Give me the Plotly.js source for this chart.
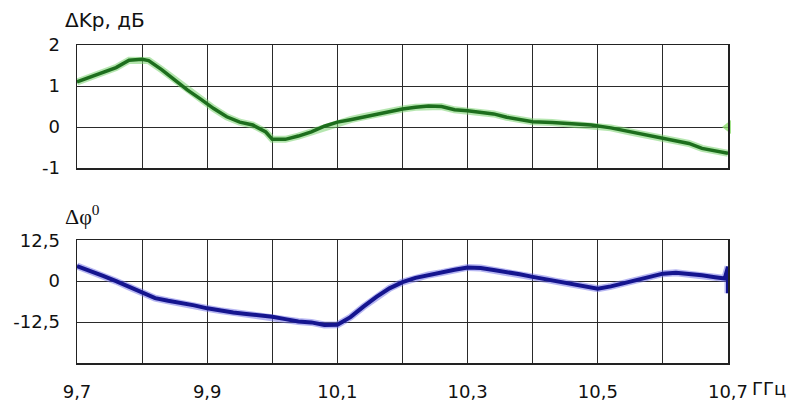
<!DOCTYPE html>
<html><head><meta charset="utf-8">
<script src="https://cdn.plot.ly/plotly-3.0.1.min.js"></script>
<style>html,body{margin:0;padding:0;background:#fff}#c{width:795px;height:403px}</style>
</head><body><div id="c"></div>
<script>
// Top panel: gain deviation ΔKp, dB
const freqK = [9.70,9.72,9.74,9.76,9.78,9.80,9.81,9.83,9.85,9.87,9.89,9.91,9.93,9.95,9.97,9.99,10.00,10.02,10.04,10.06,10.08,10.10,10.12,10.14,10.16,10.18,10.20,10.22,10.24,10.26,10.28,10.30,10.32,10.34,10.36,10.38,10.40,10.43,10.46,10.49,10.52,10.55,10.58,10.61,10.64,10.66,10.68,10.70];
const gainDb = [1.10,1.22,1.33,1.45,1.63,1.65,1.62,1.40,1.15,0.90,0.68,0.45,0.25,0.12,0.05,-0.12,-0.30,-0.30,-0.22,-0.12,0.02,0.12,0.18,0.25,0.32,0.38,0.44,0.48,0.51,0.50,0.42,0.40,0.37,0.32,0.24,0.18,0.13,0.11,0.08,0.05,-0.02,-0.12,-0.22,-0.32,-0.40,-0.52,-0.58,-0.64];
// Bottom panel: phase deviation Δφ, degrees
const freqP = [9.70,9.72,9.74,9.76,9.78,9.80,9.82,9.84,9.86,9.88,9.90,9.92,9.94,9.96,9.98,10.00,10.02,10.04,10.06,10.08,10.10,10.12,10.14,10.16,10.18,10.20,10.22,10.24,10.26,10.28,10.30,10.32,10.34,10.36,10.38,10.40,10.42,10.44,10.46,10.48,10.50,10.52,10.54,10.56,10.58,10.60,10.62,10.64,10.66,10.68,10.695,10.70,10.70,10.70];
const phaseDeg = [4.6,3.2,1.6,0.0,-1.8,-3.7,-5.2,-6.0,-6.6,-7.4,-8.3,-9.0,-9.6,-10.0,-10.3,-10.9,-11.6,-12.3,-12.6,-13.4,-13.3,-11.0,-7.8,-4.8,-2.2,-0.3,1.0,1.9,2.6,3.5,4.2,4.0,3.4,2.9,2.1,1.3,0.6,-0.2,-0.9,-1.6,-2.3,-1.6,-0.6,0.4,1.5,2.3,2.6,2.3,1.8,1.2,0.8,4.4,-3.7,0.8];

const kTicks = [-1,0,1,2];
const kTickText = ["-1","0","1","2"];
const pTicks = [-12.5,0,12.5];
const pTickText = ["-12,5","0","12,5"];
const xLabelVals = [9.7,9.9,10.1,10.3,10.5,10.7];
const xLabelText = ["9,7","9,9","10,1","10,3","10,5","10,7"];
const xGrid = [9.7,9.8,9.9,10.0,10.1,10.2,10.3,10.4,10.5,10.6,10.7];

const FAM = "DejaVu Sans, Arial, sans-serif";
const gridCol = "#2a2a2a";

const traces = [
  {x:freqK, y:gainDb, xaxis:"x2", yaxis:"y2", mode:"lines", line:{color:"rgba(120,210,110,0.55)", width:7}, hoverinfo:"skip"},
  {x:freqK, y:gainDb, xaxis:"x2", yaxis:"y2", mode:"lines", line:{color:"#1d6e1d", width:3.5}},
  {x:[10.7], y:[0], xaxis:"x2", yaxis:"y2", mode:"markers", marker:{symbol:"triangle-left", size:12, color:"rgba(140,220,110,0.8)"}, cliponaxis:false},
  {x:freqP, y:phaseDeg, xaxis:"x", yaxis:"y", mode:"lines", line:{color:"rgba(110,110,230,0.5)", width:7}, hoverinfo:"skip"},
  {x:freqP, y:phaseDeg, xaxis:"x", yaxis:"y", mode:"lines", line:{color:"#15158f", width:4}}
];

function yAx(dom, rng, vals, txt) {
  return {domain:dom, range:rng, tickmode:"array", tickvals:vals, ticktext:txt,
    showgrid:true, gridcolor:gridCol, gridwidth:1, zeroline:false, showline:true, mirror:true,
    linecolor:"#222", linewidth:1.5, ticks:"", ticklabelstandoff:12, fixedrange:true,
    tickfont:{family:FAM, size:18, color:"#111"}};
}

const layout = {
  width:795, height:403,
  margin:{l:77, r:67, t:45, b:40},
  paper_bgcolor:"#fff", plot_bgcolor:"#fff",
  showlegend:false,
  font:{family:FAM, size:18, color:"#111"},
  xaxis: {anchor:"y", range:[9.7,10.7], tickmode:"array", tickvals:xLabelVals, ticktext:xLabelText,
    showgrid:false, zeroline:false, showline:true, mirror:true, linecolor:"#222", linewidth:1.5, ticks:"",
    ticklabelstandoff:12, fixedrange:true, tickfont:{family:FAM, size:18, color:"#111"}},
  xaxis3: {anchor:"y", overlaying:"x", range:[9.7,10.7], tickmode:"array", tickvals:xGrid, showticklabels:false,
    showgrid:true, gridcolor:gridCol, gridwidth:1, zeroline:false, showline:false, ticks:"", fixedrange:true},
  xaxis2: {anchor:"y2", range:[9.7,10.7], tickmode:"array", tickvals:xGrid, showticklabels:false,
    showgrid:true, gridcolor:gridCol, gridwidth:1, zeroline:false, showline:true, mirror:true,
    linecolor:"#222", linewidth:1.5, ticks:"", fixedrange:true},
  yaxis: yAx([0,0.386], [-25,12.5], pTicks, pTickText),
  yaxis2: yAx([0.613,1], [-1,2], kTicks, kTickText),
  annotations:[
    {text:"ΔKp, дБ", xref:"paper", yref:"paper", x:-0.022, xanchor:"left", y:1.0, yanchor:"bottom", yshift:11, showarrow:false,
      font:{family:FAM, size:20, color:"#111"}},
    {text:"Δφ<sup>0</sup>", xref:"paper", yref:"paper", x:-0.022, xanchor:"left", y:0.386, yanchor:"bottom", yshift:9, showarrow:false,
      font:{family:"Liberation Serif, Times New Roman, serif", size:22, color:"#111"}},
    {text:"ГГц", xref:"paper", yref:"paper", x:1.0, xanchor:"left", xshift:22, y:0, yanchor:"top", yshift:-13, showarrow:false,
      font:{family:FAM, size:18, color:"#111"}}
  ]
};

traces.push({x:[9.7], y:[-100], xaxis:"x3", yaxis:"y", mode:"markers", marker:{opacity:0}, hoverinfo:"skip"});

Plotly.newPlot("c", traces, layout, {displayModeBar:false, staticPlot:true});
</script></body></html>
